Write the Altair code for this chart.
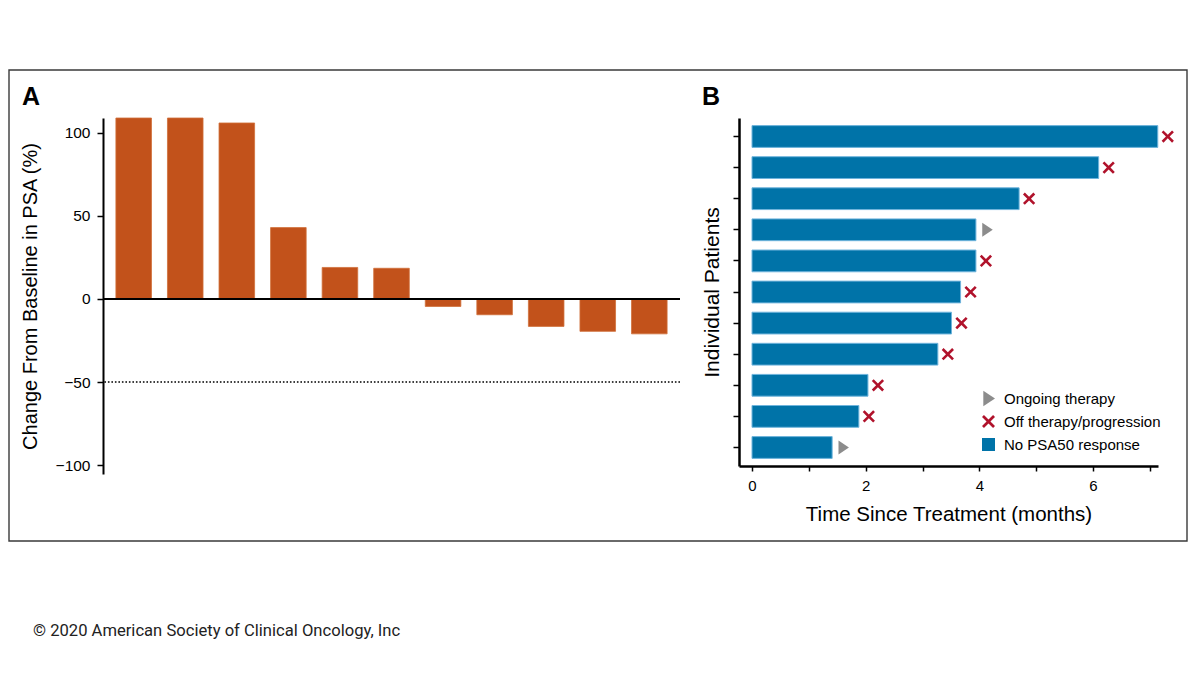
import altair as alt
import pandas as pd

# ---------------- data ----------------
# Panel A: change from baseline in PSA (%) per patient (waterfall)
psa_patients = [f"A{i}" for i in range(1, 12)]
psa_change = [109, 109, 106, 43, 19, 18.5, -4.5, -9.5, -16.5, -19.5, -21]
psa50_threshold = -50

# Panel B: time since treatment (months) per patient (swimmer)
swim_patients = [f"B{i}" for i in range(1, 12)]
swim_months = [7.14, 6.10, 4.70, 3.94, 3.94, 3.67, 3.51, 3.27, 2.04, 1.88, 1.41]
swim_status = ["Off therapy/progression", "Off therapy/progression", "Off therapy/progression",
               "Ongoing therapy", "Off therapy/progression", "Off therapy/progression",
               "Off therapy/progression", "Off therapy/progression", "Off therapy/progression",
               "Off therapy/progression", "Ongoing therapy"]
response_label = "No PSA50 response"

legend_order = ["Ongoing therapy", "Off therapy/progression", "No PSA50 response"]
copyright_text = "\u00a9 2020 American Society of Clinical Oncology, Inc"

# ---------------- styles ----------------
ORANGE = "#C2521B"
BLUE = "#0073A8"
RED = "#B0122B"
GRAY = "#8C8C8C"
SANS = "Liberation Sans, Arial, sans-serif"
NARROW = "Liberation Sans Narrow, Liberation Sans, sans-serif"

TRI_PATH = "M-0.8,-1.2L1,0L-0.8,1.2Z"
X_PATH = "M-1,-0.7L-0.7,-1L0,-0.3L0.7,-1L1,-0.7L0.3,0L1,0.7L0.7,1L0,0.3L-0.7,1L-1,0.7L-0.3,0Z"

dfA = pd.DataFrame({"pid": psa_patients, "change": psa_change})
dfB = pd.DataFrame({"pid": swim_patients, "months": swim_months, "status": swim_status})
dfB["resp"] = response_label

WA, HA = 577, 356
WB, HB = 419, 348

# ---------------- panel A ----------------
yA = alt.Y("change:Q",
           scale=alt.Scale(domain=[-105.4, 109], nice=False, zero=False),
           axis=alt.Axis(values=[-100, -50, 0, 50, 100], grid=False,
                         title="Change From Baseline in PSA (%)",
                         titleFontSize=20, titleFontWeight="normal", titleFont=SANS,
                         titleColor="black", titlePadding=15,
                         labelFontSize=15.5, labelFont=SANS, labelColor="black", labelPadding=7,
                         domainColor="black", domainWidth=2,
                         tickColor="black", tickWidth=1.5, tickSize=6))

barsA = alt.Chart(dfA).mark_bar(color=ORANGE, stroke="#D0703A", strokeWidth=0.8).encode(
    x=alt.X("pid:N", sort=None, axis=None,
            scale=alt.Scale(paddingInner=0.31, paddingOuter=0.25)),
    y=yA,
)

zero_rule = alt.Chart(pd.DataFrame({"v": [0]})).mark_rule(color="black", strokeWidth=2).encode(
    y=alt.Y("v:Q"))
thr_rule = alt.Chart(pd.DataFrame({"v": [psa50_threshold]})).mark_rule(
    color="black", strokeWidth=1.6, strokeDash=[1.6, 1.9]).encode(y=alt.Y("v:Q"))

frame = alt.Chart(pd.DataFrame({"k": [0]})).mark_rect(
    fill="transparent", stroke="#3a3a3a", strokeWidth=1.4).encode(
    x=alt.value(-94), x2=alt.value(1084), y=alt.value(-48), y2=alt.value(423))

labelA = alt.Chart(pd.DataFrame({"t": ["A"]})).mark_text(
    font=SANS, fontSize=25, fontWeight="bold", color="black", align="center", baseline="middle").encode(
    text="t:N", x=alt.value(-72), y=alt.value(-21))

copyright = alt.Chart(pd.DataFrame({"t": [copyright_text]})).mark_text(
    font="Roboto", fontSize=16.6, color="#222222", align="left", baseline="middle").encode(
    text="t:N", x=alt.value(-70), y=alt.value(513))

panelA = alt.layer(frame, barsA, zero_rule, thr_rule, labelA, copyright).properties(width=WA, height=HA)

# ---------------- panel B ----------------
yB = alt.Y("pid:N", sort=None,
           scale=alt.Scale(paddingInner=0.3, paddingOuter=0.245),
           axis=alt.Axis(labels=False, grid=False, title="Individual Patients",
                         titleFontSize=21, titleFontWeight="normal", titleFont=SANS,
                         titleColor="black", titlePadding=10,
                         domainColor="black", domainWidth=2.5,
                         tickColor="black", tickWidth=1.5, tickSize=6))
xB = alt.X("months:Q",
           scale=alt.Scale(domain=[-0.229, 7.144], nice=False, zero=False),
           axis=alt.Axis(values=[0, 1, 2, 3, 4, 5, 6, 7], grid=False,
                         labelExpr="datum.value % 2 === 0 ? datum.label : ''",
                         title="Time Since Treatment (months)",
                         titleFontSize=20.5, titleFontWeight="normal", titleFont=NARROW,
                         titleColor="black", titlePadding=11,
                         labelFontSize=15, labelFont=SANS, labelColor="black", labelPadding=7,
                         domainColor="black", domainWidth=2.5,
                         tickColor="black", tickWidth=1.5, tickSize=5))

color_scale = alt.Scale(domain=legend_order, range=[GRAY, RED, BLUE])
shape_scale = alt.Scale(domain=legend_order, range=[TRI_PATH, X_PATH, "square"])
legend = alt.Legend(title=None, orient="none", legendX=242, legendY=273, padding=0,
                    labelFontSize=15, labelFont=SANS, labelColor="black",
                    symbolSize=169, labelOffset=8, rowPadding=7, symbolStrokeWidth=0)

barsB = alt.Chart(dfB).mark_bar(stroke="#6FB4DC", strokeWidth=1).encode(
    y=yB,
    x=xB,
    x2=alt.datum(0),
    color=alt.Color("resp:N", scale=color_scale, legend=legend),
)

markers_x = alt.Chart(dfB).transform_filter(
    alt.datum.status == "Off therapy/progression").mark_point(filled=True, size=150, opacity=1).encode(
    y=yB, x=xB, xOffset=alt.value(10),
    color=alt.Color("status:N", scale=color_scale, legend=legend),
    shape=alt.Shape("status:N", scale=shape_scale, legend=legend),
)
markers_t = alt.Chart(dfB).transform_filter(
    alt.datum.status == "Ongoing therapy").mark_point(filled=True, size=135, opacity=1).encode(
    y=yB, x=xB, xOffset=alt.value(11),
    color=alt.Color("status:N", scale=color_scale, legend=legend),
    shape=alt.Shape("status:N", scale=shape_scale, legend=legend),
)

labelB = alt.Chart(pd.DataFrame({"t": ["B"]})).mark_text(
    font=SANS, fontSize=25, fontWeight="bold", color="black", align="center", baseline="middle").encode(
    text="t:N", x=alt.value(-28), y=alt.value(-21))

panelB = alt.layer(barsB, markers_x, markers_t, labelB).properties(width=WB, height=HB)

chart = alt.hconcat(panelA, panelB, spacing=59, bounds="flush").resolve_scale(
    color="independent", shape="independent").properties(
    padding={"top": 60, "left": -1, "right": 2, "bottom": 0},
    background="white",
).configure_view(stroke="transparent")

chart.save("out.html", embed_options={"renderer": "svg", "actions": False})
